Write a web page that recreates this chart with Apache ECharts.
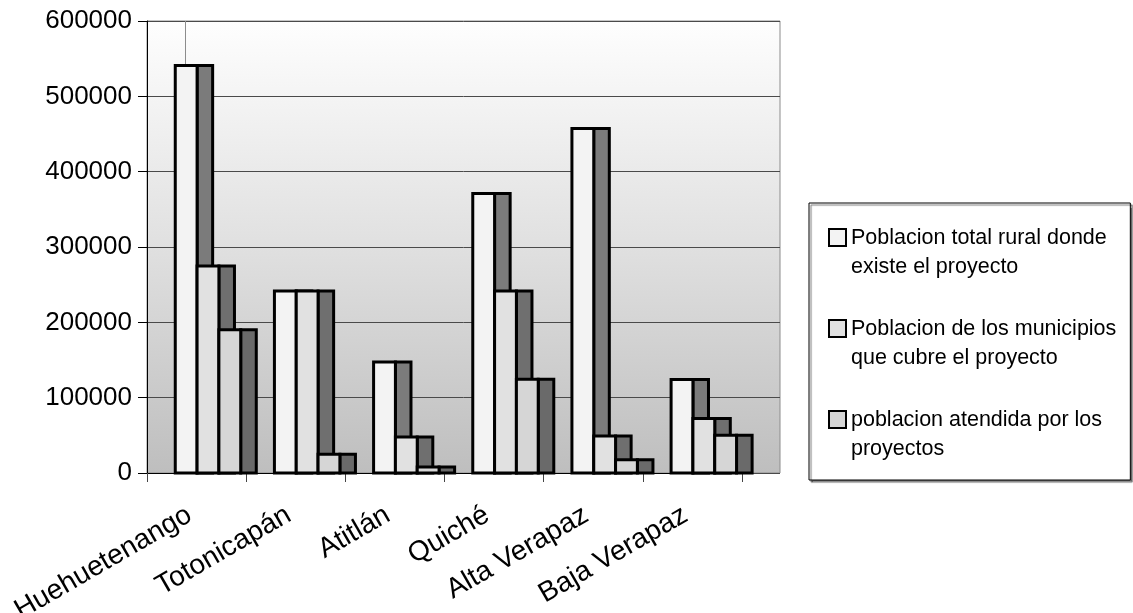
<!DOCTYPE html>
<html>
<head>
<meta charset="utf-8">
<script src="https://cdn.jsdelivr.net/npm/echarts@6/dist/echarts.min.js"></script>
<style>
html,body{margin:0;padding:0;background:#fff;}
#chart{width:1133px;height:613px;}
</style>
</head>
<body>
<div id="chart"></div>
<script>
const categories = ['Huehuetenango', 'Totonicapán', 'Atitlán', 'Quiché', 'Alta Verapaz', 'Baja Verapaz'];
const seriesNames = [
  'Poblacion total rural donde\nexiste el proyecto',
  'Poblacion de los municipios\nque cubre el proyecto',
  'poblacion atendida por los\nproyectos'
];
const poblacionTotalRural = [541000, 241600, 147400, 370900, 457200, 124000];
const poblacionMunicipios = [274800, 241600, 47800, 241600, 49100, 72200];
const poblacionAtendida = [190300, 24800, 8000, 124400, 17700, 50000];
const yTicks = { min: 0, max: 600000, interval: 100000 };

const seriesValues = [poblacionTotalRural, poblacionMunicipios, poblacionAtendida];
const frontColors = ['#f3f3f3', '#e1e1e1', '#d6d6d6'];
const sideColors = ['#7b7b7b', '#6f6f6f', '#6a6a6a'];

const FONT = "'Liberation Sans', Arial, sans-serif";

function makeRender(sIdx) {
  return function (params, api) {
    const cat = api.value(0);
    const val = api.value(1);
    const base = api.coord([cat, 0]);
    const top = api.coord([cat, val]);
    const band = api.size([1, 0])[0];
    const fw = band * 0.22;
    const sw = band * 0.157;
    const x0 = base[0] - band / 2 + band * 0.285 + sIdx * fw;
    const h = base[1] - top[1];
    return {
      type: 'group',
      children: [
        { type: 'rect', shape: { x: x0 + fw, y: top[1], width: sw, height: h },
          style: { fill: sideColors[sIdx], stroke: '#000', lineWidth: 3 } },
        { type: 'rect', shape: { x: x0, y: top[1], width: fw, height: h },
          style: { fill: frontColors[sIdx], stroke: '#000', lineWidth: 3 } }
      ]
    };
  };
}

const chart = echarts.init(document.getElementById('chart'), null, { renderer: 'canvas' });

const bgGradient = new echarts.graphic.LinearGradient(0, 0, 0, 1, [
  { offset: 0, color: '#fefefe' },
  { offset: 0.5, color: '#e0e0e0' },
  { offset: 1, color: '#bebebe' }
]);

const legendIcon = 'path://M0,0M0,6h17v17h-17zM0,59';

const option = {
  animation: false,
  backgroundColor: '#ffffff',
  grid: [
    { left: 147, right: 391, top: 21, bottom: 140, containLabel: false, outerBoundsMode: 'none' },
    { left: 147, right: 353, top: 21, bottom: 140, show: true, outerBoundsMode: 'none',
      backgroundColor: bgGradient, borderColor: '#8c8c8c', borderWidth: 1 }
  ],
  xAxis: [
    {
      type: 'category', gridIndex: 0, data: categories, boundaryGap: true,
      axisLine: { show: true, lineStyle: { color: '#000', width: 1 } },
      axisTick: { show: true, length: 9, alignWithLabel: false, lineStyle: { color: '#444' } },
      axisLabel: { rotate: 30, margin: 36, fontSize: 28, fontFamily: FONT, color: '#000',
        interval: 0, padding: [0, 8, 0, 0] },
      splitLine: { show: false }, z: 3
    },
    {
      type: 'value', gridIndex: 1, min: 0, max: 1, show: false
    }
  ],
  yAxis: [
    {
      type: 'value', gridIndex: 0, min: yTicks.min, max: yTicks.max, interval: yTicks.interval,
      axisLine: { show: true, lineStyle: { color: '#000', width: 1 } },
      axisTick: { show: true, length: 9, lineStyle: { color: '#000' } },
      axisLabel: { fontSize: 26, fontFamily: FONT, color: '#000', margin: 15,
        formatter: (v) => String(v) },
      splitLine: { show: false }, z: 3
    },
    {
      type: 'value', gridIndex: 1, min: yTicks.min, max: yTicks.max, interval: yTicks.interval,
      axisLine: { show: false }, axisTick: { show: false }, axisLabel: { show: false },
      splitLine: { show: true, lineStyle: { color: '#4a4a4a', width: 1 } }
    }
  ],
  graphic: [
    { type: 'line', z: 1, shape: { x1: 185.5, y1: 21, x2: 185.5, y2: 472 },
      style: { stroke: '#8c8c8c', lineWidth: 1 } }
  ],
  legend: {
    orient: 'vertical',
    left: 809, top: 203,
    padding: [19, 14, 15, 19],
    itemGap: 30,
    itemWidth: 17, itemHeight: 59,
    backgroundColor: '#ffffff',
    borderColor: '#000', borderWidth: 1,
    shadowColor: 'rgba(0,0,0,0.55)', shadowOffsetX: 2, shadowOffsetY: 2, shadowBlur: 1,
    textStyle: { fontSize: 21.5, fontFamily: FONT, color: '#000', lineHeight: 29.5 },
    data: seriesNames.map((n, i) => ({
      name: n, icon: legendIcon,
      itemStyle: { color: frontColors[i], borderColor: '#000', borderWidth: 2 }
    }))
  },
  series: seriesValues.map((vals, i) => ({
    name: seriesNames[i],
    type: 'custom',
    xAxisIndex: 0, yAxisIndex: 0,
    renderItem: makeRender(i),
    itemStyle: { color: frontColors[i], borderColor: '#000', borderWidth: 2 },
    encode: { x: 0, y: 1 },
    data: vals.map((v, c) => [c, v]),
    z: 2 + i
  }))
};

chart.setOption(option);
</script>
</body>
</html>
